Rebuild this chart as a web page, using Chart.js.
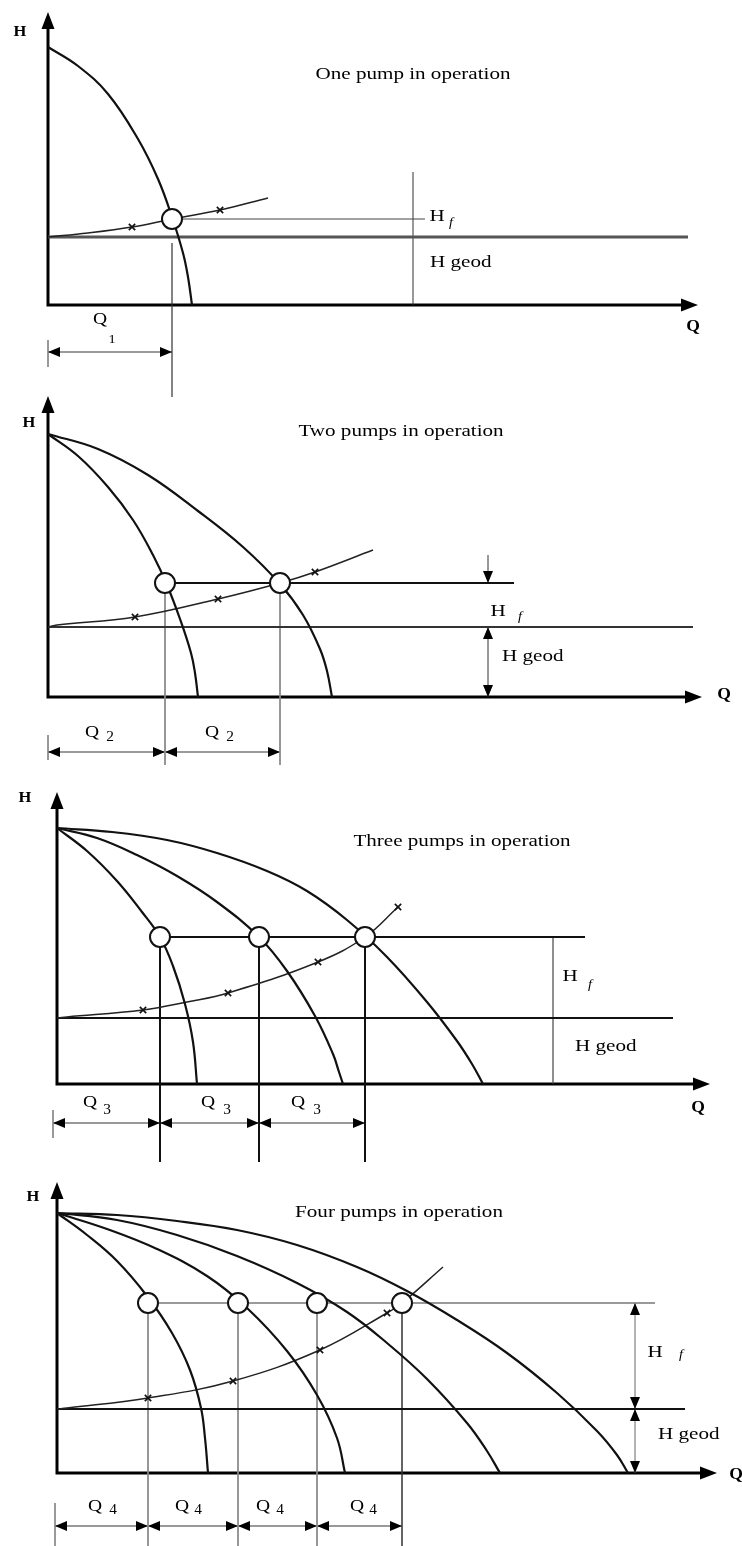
<!DOCTYPE html>
<html lang="en">
<head>
<meta charset="UTF-8">
<title>Pumps in parallel operation</title>
<script src="https://cdn.jsdelivr.net/npm/chart.js"></script>
<style>
  html, body { margin: 0; padding: 0; background: #fff; }
  #page { position: relative; width: 742px; height: 1546px; overflow: hidden; }
  #page canvas { position: absolute; left: 0; }
</style>
</head>
<body>
<div id="page">
  <canvas id="pump1" width="742" height="400" style="top:0px"></canvas>
  <canvas id="pump2" width="742" height="390" style="top:385px"></canvas>
  <canvas id="pump3" width="742" height="392" style="top:775px"></canvas>
  <canvas id="pump4" width="742" height="381" style="top:1165px"></canvas>
</div>
<script>
// Q-H values, read per panel with the origin at Q = 0, H = 0

// one pump
const p1Pump1 = [[0,258],[30,239],[60,211],[90,166],[110,126],[124,88],[135,52],[140,28],[144,0]];
const p1System = [[0,68],[40,72],[84,78],[124,86],[172,95],[220,107]];
const p1Marks = [84, 172];
const p1Duty = [124];
const p1DutyHead = 86;
const p1Geod = 68;

// two pumps
const p2Pump1 = [[0,263],[30,241],[60,210],[85,177],[105,142],[119,112],[132,78],[143,44],[147,24],[150,0]];
const p2Pump2 = [[0,263],[50,248],[100,222],[150,186],[195,150],[232,113],[255,82],[272,48],[279,26],[284,0]];
const p2System = [[0,70],[9,72],[87,80],[170,98],[232,114],[267,125],[325,147]];
const p2Marks = [87, 170, 267];
const p2Duty = [117, 232];
const p2DutyHead = 114;
const p2Geod = 70;

// three pumps
const p3Pump1 = [[0,256],[30,233],[60,203],[85,172],[103,147],[116,118],[128,80],[136,42],[140,0]];
const p3Pump2 = [[0,256],[40,246],[80,229],[120,208],[160,182],[202,147],[230,113],[258,68],[276,30],[282,12],[286,0]];
const p3Pump3 = [[0,256],[55,252],[110,244],[160,231],[210,213],[250,193],[290,164],[330,127],[370,82],[400,43],[415,20],[426,0]];
const p3System = [[0,66],[10,67],[86,74],[130,82],[171,91],[261,122],[308,147],[341,177]];
const p3Marks = [86, 171, 261, 341];
const p3Duty = [103, 202, 308];
const p3DutyHead = 147;
const p3Geod = 66;

// four pumps
const p4Pump1 = [[0,260],[30,238],[60,212],[90,177],[115,140],[133,103],[144,65],[148,35],[151,0]];
const p4Pump2 = [[0,260],[50,244],[100,224],[150,197],[190,165],[230,122],[260,78],[280,35],[288,0]];
const p4Pump3 = [[0,260],[60,253],[120,238],[180,217],[240,190],[290,161],[330,130],[370,94],[410,50],[430,22],[443,0]];
const p4Pump4 = [[0,260],[60,258],[120,252],[180,243],[240,228],[300,206],[350,182],[400,153],[450,120],[500,80],[540,42],[560,18],[571,0]];
const p4System = [[0,64],[10,65],[91,75],[176,92],[263,123],[330,160],[345,170],[386,206]];
const p4Marks = [91, 176, 263, 330];
const p4Duty = [91, 181, 260, 345];
const p4DutyHead = 170;
const p4Geod = 64;

const SERIF = '"Liberation Serif", "DejaVu Serif", serif';

function arrowHead(ctx, x, y, ux, uy, len, half) {
  // tip at (x, y), pointing along the unit vector (ux, uy)
  const bx = x - ux * len, by = y - uy * len;
  ctx.beginPath();
  ctx.moveTo(x, y);
  ctx.lineTo(bx - uy * half, by + ux * half);
  ctx.lineTo(bx + uy * half, by - ux * half);
  ctx.closePath();
  ctx.fill();
}

function dimLine(ctx, x1, y1, x2, y2, a1, a2, style) {
  ctx.strokeStyle = style.color;
  ctx.lineWidth = style.width;
  ctx.beginPath();
  ctx.moveTo(x1, y1);
  ctx.lineTo(x2, y2);
  ctx.stroke();
  const L = Math.hypot(x2 - x1, y2 - y1) || 1;
  const ux = (x2 - x1) / L, uy = (y2 - y1) / L;
  ctx.fillStyle = '#000';
  if (a1) arrowHead(ctx, x1, y1, -ux, -uy, 12, 5);
  if (a2) arrowHead(ctx, x2, y2, ux, uy, 12, 5);
}

function drawText(ctx, item, X, Y) {
  ctx.save();
  ctx.font = (item.italic ? 'italic ' : '') + (item.bold ? 'bold ' : '') + item.size + 'px ' + SERIF;
  ctx.translate(X(item.q), Y(item.h));
  ctx.scale(item.sx || 1.24, 1);
  ctx.textAlign = item.align || 'center';
  ctx.textBaseline = 'middle';
  ctx.fillStyle = '#000';
  ctx.fillText(item.t, 0, 0);
  ctx.restore();
}

function diagramPlugin(p) {
  return {
    id: 'diagram',
    beforeDatasetsDraw(chart) {
      const { ctx, scales: { x, y } } = chart;
      const X = v => x.getPixelForValue(v), Y = v => y.getPixelForValue(v);
      ctx.save();
      ctx.lineCap = 'butt';

      // H and Q axes with arrow heads
      ctx.strokeStyle = '#000';
      ctx.fillStyle = '#000';
      ctx.lineWidth = 3;
      ctx.beginPath();
      ctx.moveTo(X(0), Y(p.hAxisEnd) + 12);
      ctx.lineTo(X(0), Y(0));
      ctx.lineTo(X(p.qAxisEnd) - 12, Y(0));
      ctx.stroke();
      arrowHead(ctx, X(0), Y(p.hAxisEnd), 0, -1, 17, 6.5);
      arrowHead(ctx, X(p.qAxisEnd), Y(0), 1, 0, 17, 6.5);

      // head dimension (H f / H geod)
      p.headDims.forEach(d => {
        dimLine(ctx, X(d.q), Y(d.from), X(d.q), Y(d.to), d.a1, d.a2, p.headDimStyle);
      });

      // flow dimension chain below the Q axis
      const bounds = [p.dimStart].concat(p.duty);
      ctx.strokeStyle = '#777';
      ctx.lineWidth = 1.5;
      ctx.beginPath();
      ctx.moveTo(X(p.dimStart), Y(p.tickTop));
      ctx.lineTo(X(p.dimStart), Y(p.tickBottom));
      ctx.stroke();
      for (let i = 0; i < bounds.length - 1; i++) {
        dimLine(ctx, X(bounds[i]), Y(p.dimH), X(bounds[i + 1]), Y(p.dimH), true, true,
          { color: '#999', width: 2.2 });
      }
      ctx.restore();
    },
    afterDatasetsDraw(chart) {
      const { ctx, scales: { x, y } } = chart;
      const X = v => x.getPixelForValue(v), Y = v => y.getPixelForValue(v);
      p.labels.forEach(item => drawText(ctx, item, X, Y));
    }
  };
}

function seg(a, b, style, order) {
  return {
    data: [a, b], showLine: true, pointRadius: 0,
    borderColor: style.color, borderWidth: style.width, tension: 0, order: order
  };
}

function buildDatasets(p) {
  const ds = [];
  // duty points
  ds.push({
    data: p.duty.map(q => ({ x: q, y: p.dutyHead })),
    showLine: false, pointRadius: 10, pointHoverRadius: 10,
    pointBorderWidth: 2, pointBackgroundColor: '#fff', pointBorderColor: '#111', order: 0
  });
  // pump curves, single pump up to all pumps in parallel
  p.curves.forEach(c => ds.push({
    data: c.map(([q, h]) => ({ x: q, y: h })),
    showLine: true, borderColor: '#111', borderWidth: 2.2, pointRadius: 0,
    tension: 0.4, order: 1
  }));
  // system curve with its x marks
  ds.push({
    data: p.system.map(([q, h]) => ({ x: q, y: h })),
    showLine: true, borderColor: '#222', borderWidth: 1.5,
    tension: 0.4,
    pointStyle: 'crossRot',
    pointRadius: p.system.map(([q]) => p.marks.includes(q) ? 4.5 : 0),
    pointBorderColor: '#111', pointBorderWidth: 1.6, order: 2
  });
  // static head, duty head line and drop lines
  ds.push(seg({ x: 0, y: p.geod }, { x: p.geodEnd, y: p.geod }, p.geodStyle, 3));
  ds.push(seg({ x: p.duty[0], y: p.dutyHead }, { x: p.dutyLineEnd, y: p.dutyHead }, p.dutyStyle, 3));
  p.duty.forEach((q, i) => {
    const st = (p.lastDropStyle && i === p.duty.length - 1) ? p.lastDropStyle : p.dropStyle;
    ds.push(seg({ x: q, y: p.dropTop }, { x: q, y: p.dropBottom }, st, 3));
  });
  return ds;
}

function makePanel(id, p) {
  return new Chart(document.getElementById(id), {
    type: 'scatter',
    data: { datasets: buildDatasets(p) },
    options: {
      responsive: false,
      animation: false,
      devicePixelRatio: 1,
      events: [],
      layout: { padding: 0, autoPadding: false },
      plugins: { legend: { display: false }, tooltip: { enabled: false } },
      scales: {
        x: { type: 'linear', display: false, min: p.view.x[0], max: p.view.x[1] },
        y: { type: 'linear', display: false, min: p.view.y[0], max: p.view.y[1] }
      }
    },
    plugins: [diagramPlugin(p)]
  });
}

makePanel('pump1', {
  view: { x: [-48, 694], y: [-95, 305] },
  curves: [p1Pump1], system: p1System, marks: p1Marks,
  duty: p1Duty, dutyHead: p1DutyHead, geod: p1Geod,
  qAxisEnd: 650, hAxisEnd: 293,
  geodEnd: 640, geodStyle: { color: '#555', width: 3 },
  dutyLineEnd: 377, dutyStyle: { color: '#444', width: 1 },
  dropTop: 62, dropBottom: -92, dropStyle: { color: '#333', width: 1.2 },
  headDims: [{ q: 365, from: 133, to: 0 }], headDimStyle: { color: '#333', width: 1 },
  dimStart: 0, dimH: -47, tickTop: -35, tickBottom: -62,
  labels: [
    { t: 'H', q: -28, h: 273, size: 15, bold: true, sx: 1.1 },
    { t: 'One pump in operation', q: 365, h: 230, size: 17 },
    { t: 'Q', q: 645, h: -22, size: 16, bold: true, sx: 1.1 },
    { t: 'H', q: 389, h: 88, size: 17 },
    { t: 'f', q: 403, h: 82, size: 13, italic: true, sx: 1.1 },
    { t: 'H geod', q: 382, h: 42, size: 17, align: 'left' },
    { t: 'Q', q: 52, h: -15, size: 17, sx: 1.15 },
    { t: '1', q: 64, h: -35, size: 13, sx: 1.1 }
  ]
});

makePanel('pump2', {
  view: { x: [-48, 694], y: [-78, 312] },
  curves: [p2Pump1, p2Pump2], system: p2System, marks: p2Marks,
  duty: p2Duty, dutyHead: p2DutyHead, geod: p2Geod,
  qAxisEnd: 654, hAxisEnd: 301,
  geodEnd: 645, geodStyle: { color: '#333', width: 2 },
  dutyLineEnd: 466, dutyStyle: { color: '#111', width: 2 },
  dropTop: 114, dropBottom: -68, dropStyle: { color: '#888', width: 1 },
  headDims: [
    { q: 440, from: 142, to: 114, a2: true },
    { q: 440, from: 70, to: 0, a1: true, a2: true }
  ],
  headDimStyle: { color: '#333', width: 1 },
  dimStart: 0, dimH: -55, tickTop: -38, tickBottom: -63,
  labels: [
    { t: 'H', q: -19, h: 274, size: 15, bold: true, sx: 1.1 },
    { t: 'Two pumps in operation', q: 353, h: 265, size: 17 },
    { t: 'Q', q: 676, h: 2, size: 16, bold: true, sx: 1.1 },
    { t: 'H', q: 450, h: 85, size: 17 },
    { t: 'f', q: 472, h: 80, size: 13, italic: true, sx: 1.1 },
    { t: 'H geod', q: 454, h: 40, size: 17, align: 'left' },
    { t: 'Q', q: 44, h: -36, size: 17, sx: 1.15 },
    { t: '2', q: 62, h: -40, size: 14, sx: 1.1 },
    { t: 'Q', q: 164, h: -36, size: 17, sx: 1.15 },
    { t: '2', q: 182, h: -40, size: 14, sx: 1.1 }
  ]
});

makePanel('pump3', {
  view: { x: [-57, 685], y: [-83, 309] },
  curves: [p3Pump1, p3Pump2, p3Pump3], system: p3System, marks: p3Marks,
  duty: p3Duty, dutyHead: p3DutyHead, geod: p3Geod,
  qAxisEnd: 653, hAxisEnd: 292,
  geodEnd: 616, geodStyle: { color: '#111', width: 2 },
  dutyLineEnd: 528, dutyStyle: { color: '#111', width: 2 },
  dropTop: 147, dropBottom: -78, dropStyle: { color: '#111', width: 2 },
  headDims: [{ q: 496, from: 147, to: 0 }], headDimStyle: { color: '#444', width: 1.2 },
  dimStart: -4, dimH: -39, tickTop: -26, tickBottom: -54,
  labels: [
    { t: 'H', q: -32, h: 286, size: 15, bold: true, sx: 1.1 },
    { t: 'Three pumps in operation', q: 405, h: 242, size: 17 },
    { t: 'Q', q: 641, h: -24, size: 16, bold: true, sx: 1.1 },
    { t: 'H', q: 513, h: 107, size: 17 },
    { t: 'f', q: 533, h: 99, size: 13, italic: true, sx: 1.1 },
    { t: 'H geod', q: 518, h: 37, size: 17, align: 'left' },
    { t: 'Q', q: 33, h: -19, size: 17, sx: 1.15 },
    { t: '3', q: 50, h: -26, size: 14, sx: 1.1 },
    { t: 'Q', q: 151, h: -19, size: 17, sx: 1.15 },
    { t: '3', q: 170, h: -26, size: 14, sx: 1.1 },
    { t: 'Q', q: 241, h: -19, size: 17, sx: 1.15 },
    { t: '3', q: 260, h: -26, size: 14, sx: 1.1 }
  ]
});

makePanel('pump4', {
  view: { x: [-57, 685], y: [-73, 308] },
  curves: [p4Pump1, p4Pump2, p4Pump3, p4Pump4], system: p4System, marks: p4Marks,
  duty: p4Duty, dutyHead: p4DutyHead, geod: p4Geod,
  qAxisEnd: 660, hAxisEnd: 291,
  geodEnd: 628, geodStyle: { color: '#111', width: 2 },
  dutyLineEnd: 598, dutyStyle: { color: '#777', width: 1.5 },
  dropTop: 170, dropBottom: -73, dropStyle: { color: '#888', width: 1 },
  lastDropStyle: { color: '#333', width: 1.5 },
  headDims: [
    { q: 578, from: 170, to: 64, a1: true, a2: true },
    { q: 578, from: 64, to: 0, a1: true, a2: true }
  ],
  headDimStyle: { color: '#666', width: 1 },
  dimStart: -2, dimH: -53, tickTop: -30, tickBottom: -73,
  labels: [
    { t: 'H', q: -24, h: 276, size: 15, bold: true, sx: 1.1 },
    { t: 'Four pumps in operation', q: 342, h: 260, size: 17 },
    { t: 'Q', q: 679, h: -2, size: 16, bold: true, sx: 1.1 },
    { t: 'H', q: 598, h: 120, size: 17 },
    { t: 'f', q: 624, h: 118, size: 13, italic: true, sx: 1.1 },
    { t: 'H geod', q: 601, h: 38, size: 17, align: 'left' },
    { t: 'Q', q: 38, h: -34, size: 17, sx: 1.15 },
    { t: '4', q: 56, h: -37, size: 14, sx: 1.1 },
    { t: 'Q', q: 125, h: -34, size: 17, sx: 1.15 },
    { t: '4', q: 141, h: -37, size: 14, sx: 1.1 },
    { t: 'Q', q: 206, h: -34, size: 17, sx: 1.15 },
    { t: '4', q: 223, h: -37, size: 14, sx: 1.1 },
    { t: 'Q', q: 300, h: -34, size: 17, sx: 1.15 },
    { t: '4', q: 316, h: -37, size: 14, sx: 1.1 }
  ]
});
</script>
</body>
</html>
